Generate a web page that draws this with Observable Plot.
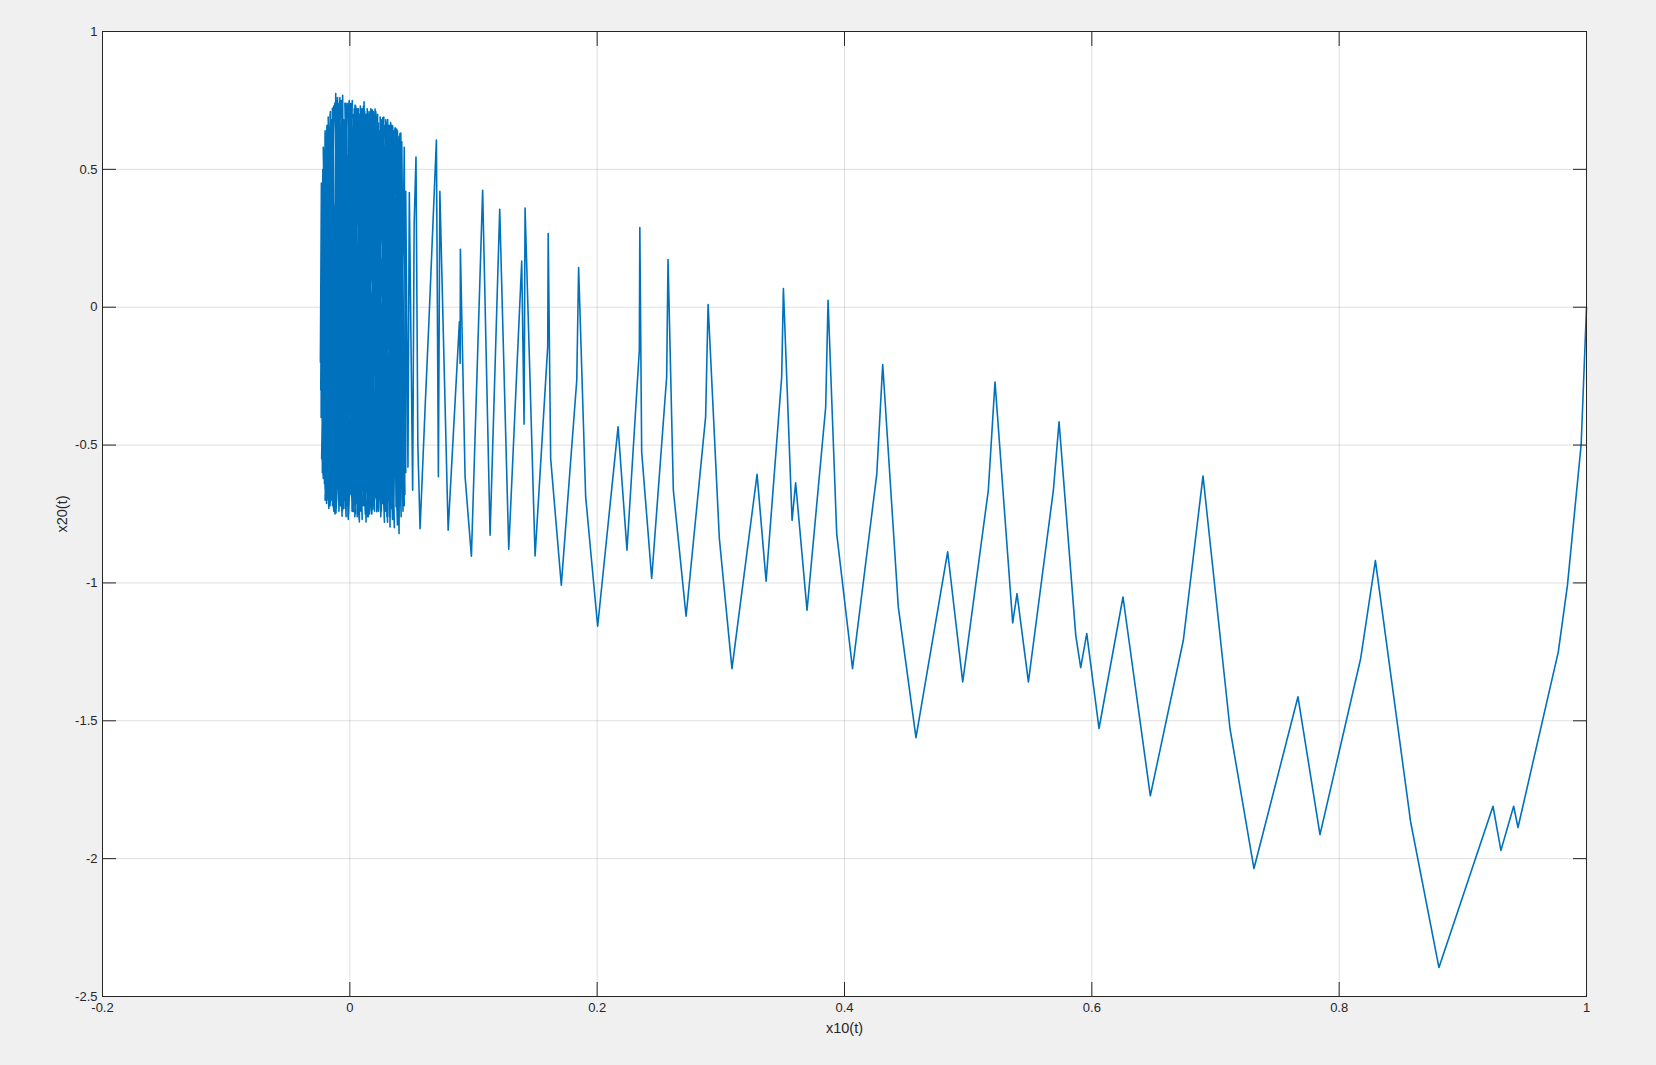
<!DOCTYPE html>
<html>
<head>
<meta charset="utf-8">
<script src="https://cdn.jsdelivr.net/npm/d3@7"></script>
<script src="https://cdn.jsdelivr.net/npm/@observablehq/plot@0.6"></script>
<style>
  html, body { margin: 0; padding: 0; background: #f0f0f0; }
  #chart svg { display: block; }
</style>
</head>
<body>
<div id="chart"></div>
<script>
// Tick values
const xTicks = [-0.2, 0, 0.2, 0.4, 0.6, 0.8, 1];
const yTicks = [-2.5, -2, -1.5, -1, -0.5, 0, 0.5, 1];

// Trajectory x10(t) (horizontal) and x20(t) (vertical)
const x10 = [
  // dense part, sweep A
  -0.0230, -0.0215, -0.0192, -0.0188, -0.0165, -0.0152, -0.0141, -0.0125, -0.0114, -0.0112,
  -0.0085, -0.0063, -0.0058, -0.0040, -0.0026, -0.0027, 0.0007, 0.0028, 0.0042, 0.0055,
  0.0077, 0.0077, 0.0100, 0.0131, 0.0115, 0.0150, 0.0150, 0.0185, 0.0180, 0.0218,
  0.0204, 0.0240, 0.0231, 0.0266, 0.0266, 0.0300, 0.0306, 0.0325, 0.0347, 0.0374,
  0.0379, 0.0398, 0.0412, 0.0430,
  // sweep B
  0.0420, 0.0390, 0.0360, 0.0340, 0.0320, 0.0290, 0.0270, 0.0250, 0.0220, 0.0200,
  0.0170, 0.0160, 0.0130, 0.0110, 0.0090, 0.0060, 0.0030, 0.0010, -0.0010, -0.0030,
  -0.0050, -0.0075, -0.0095, -0.0120, -0.0135, -0.0160, -0.0175, -0.0200, -0.0218, -0.0232,
  -0.0228,
  // sweep D
  -0.0130, -0.0200, -0.0080, -0.0160, -0.0030, -0.0100, 0.0020, -0.0040, 0.0075, 0.0010,
  0.0125, 0.0060, 0.0175, 0.0110, 0.0225, 0.0160, 0.0280, 0.0210, 0.0320, 0.0260,
  0.0360, 0.0300, 0.0395, 0.0340, 0.0430, 0.0385, 0.0445, 0.0420,
  // sweep E
  0.0350, 0.0400, 0.0300, 0.0365, 0.0250, 0.0320, 0.0195, 0.0275, 0.0140, 0.0225,
  0.0090, 0.0170, 0.0040, 0.0120, -0.0010, 0.0070, -0.0060, 0.0020, -0.0110, -0.0030,
  -0.0160, -0.0080, -0.0200, -0.0130, -0.0228, -0.0185, -0.0235, -0.0225,
  // sweep F
  -0.0170, -0.0215, -0.0120, -0.0175, -0.0065, -0.0122, -0.0012, -0.0068, 0.0045, -0.0015,
  0.0100, 0.0035, 0.0150, 0.0085, 0.0200, 0.0140, 0.0250, 0.0190, 0.0305, 0.0245,
  0.0345, 0.0290, 0.0385, 0.0330, 0.0415, 0.0370, 0.0440, 0.0405,
  // sweep G
  0.0380, 0.0352, 0.0335, 0.0312, 0.0283, 0.0258, 0.0232, 0.0208, 0.0178, 0.0155,
  0.0125, 0.0098, 0.0070, 0.0048, 0.0018, -0.0005, -0.0035, -0.0058, -0.0088, -0.0108,
  -0.0140, -0.0158, -0.0185, -0.0200, -0.0222, -0.0230, -0.0238, -0.0232,
  // sweep C
  -0.0205, -0.0180, -0.0168, -0.0150, -0.0130, -0.0105, -0.0090, -0.0070, -0.0050, -0.0035,
  -0.0015, 0.0015, 0.0040, 0.0060, 0.0090, 0.0105, 0.0120, 0.0140, 0.0170, 0.0190,
  0.0210, 0.0240, 0.0255, 0.0285, 0.0310, 0.0330, 0.0355, 0.0390, 0.0410, 0.0440,
  0.0452, 0.0452, 0.0470, 0.0481, 0.0508, 0.0520, 0.0535, 0.0550, 0.0568, 0.0610,
  0.0640, 0.0700, 0.0716, 0.0728,
  // sparse part
  0.0795, 0.0886, 0.0892, 0.0894, 0.0932, 0.0983, 0.1074, 0.1134, 0.1212, 0.1285,
  0.1390, 0.1409, 0.1417, 0.1498, 0.1600, 0.1604, 0.1624, 0.1710, 0.1835, 0.1850,
  0.1907, 0.2004, 0.2169, 0.2241, 0.2341, 0.2345, 0.2360, 0.2441, 0.2562, 0.2573,
  0.2616, 0.2719, 0.2877, 0.2897, 0.2988, 0.3090, 0.3293, 0.3366, 0.3492, 0.3506,
  0.3576, 0.3605, 0.3697, 0.3848, 0.3867, 0.3937, 0.4065, 0.4261, 0.4309, 0.4435,
  0.4578, 0.4834, 0.4956, 0.5163, 0.5217, 0.5360, 0.5395, 0.5487, 0.5689, 0.5735,
  0.5870, 0.5910, 0.5959, 0.6058, 0.6252, 0.6473, 0.6740, 0.6899, 0.7117, 0.7311,
  0.7667, 0.7845, 0.8174, 0.8293, 0.8578, 0.8807, 0.9244, 0.9308, 0.9411, 0.9446,
  0.9772, 0.9846, 0.9957, 1.0000
];
const x20 = [
  // dense part, sweep A
  0.05, -0.62, 0.618, -0.712, 0.58, -0.700, 0.721, -0.69, 0.775, -0.746,
  0.71, -0.758, 0.769, -0.70, 0.733, -0.724, 0.739, -0.742, 0.733, -0.71,
  0.700, -0.779, 0.69, -0.779, 0.745, -0.72, 0.687, -0.733, 0.716, -0.742,
  0.719, -0.70, 0.668, -0.712, 0.687, -0.76, 0.681, -0.797, 0.657, -0.724,
  0.645, -0.821, 0.632, -0.70,
  // sweep B
  0.55, -0.66, 0.60, -0.70, 0.62, -0.74, 0.60, -0.68, 0.64, -0.70,
  0.66, -0.75, 0.70, -0.72, 0.66, -0.76, 0.70, -0.68, 0.72, -0.74,
  0.68, -0.72, 0.74, -0.73, 0.70, -0.68, 0.64, -0.66, 0.50, -0.40,
  0.30,
  // sweep D
  -0.74, 0.60, -0.72, 0.70, -0.76, 0.76, -0.74, 0.74, -0.77, 0.73,
  -0.75, 0.72, -0.74, 0.73, -0.73, 0.70, -0.78, 0.71, -0.76, 0.68,
  -0.80, 0.67, -0.78, 0.66, -0.74, 0.64, -0.68, 0.60,
  // sweep E
  -0.72, 0.62, -0.74, 0.65, -0.76, 0.66, -0.72, 0.69, -0.76, 0.70,
  -0.73, 0.72, -0.76, 0.71, -0.75, 0.72, -0.74, 0.75, -0.73, 0.74,
  -0.72, 0.76, -0.70, 0.73, -0.55, 0.66, -0.30, 0.40,
  // sweep F
  -0.73, 0.58, -0.75, 0.69, -0.74, 0.74, -0.77, 0.75, -0.75, 0.74,
  -0.77, 0.72, -0.76, 0.73, -0.74, 0.72, -0.75, 0.71, -0.78, 0.69,
  -0.77, 0.68, -0.79, 0.67, -0.76, 0.65, -0.72, 0.63,
  // sweep G
  -0.70, 0.64, -0.73, 0.66, -0.72, 0.68, -0.74, 0.70, -0.75, 0.71,
  -0.73, 0.72, -0.75, 0.73, -0.74, 0.75, -0.73, 0.76, -0.74, 0.75,
  -0.72, 0.71, -0.70, 0.64, -0.60, 0.45, -0.20, 0.20,
  // sweep C
  -0.64, 0.60, -0.72, 0.68, -0.74, 0.70, -0.70, 0.74, -0.73, 0.70,
  -0.76, 0.71, -0.72, 0.68, -0.74, 0.72, -0.70, 0.66, -0.72, 0.70,
  -0.69, 0.64, -0.74, 0.66, -0.70, 0.62, -0.76, 0.60, -0.64, 0.58,
  -0.60, 0.42, -0.58, 0.416, -0.664, 0.30, 0.545, -0.50, -0.803, -0.35,
  -0.047, 0.606, -0.615, 0.42,
  // sparse part
  -0.809, -0.053, -0.204, 0.210, -0.615, -0.903, 0.424, -0.827, 0.355, -0.878,
  0.167, -0.424, 0.360, -0.902, -0.144, 0.267, -0.549, -1.008, -0.265, 0.144,
  -0.688, -1.157, -0.434, -0.881, -0.156, 0.289, -0.525, -0.984, -0.253, 0.173,
  -0.664, -1.121, -0.398, 0.010, -0.839, -1.311, -0.606, -0.994, -0.253, 0.068,
  -0.773, -0.637, -1.099, -0.362, 0.025, -0.821, -1.311, -0.606, -0.208, -1.087,
  -1.561, -0.887, -1.359, -0.664, -0.271, -1.145, -1.039, -1.359, -0.664, -0.416,
  -1.190, -1.307, -1.184, -1.528, -1.051, -1.772, -1.208, -0.612, -1.528, -2.036,
  -1.413, -1.913, -1.274, -0.919, -1.867, -2.395, -1.810, -1.970, -1.810, -1.887,
  -1.250, -1.008, -0.497, 0.000
];

const data = x10.map((x, i) => ({x, y: x20[i]}));
const ink = "#262626";
const fmt = d => String(d);

const chart = Plot.plot({
  width: 1656,
  height: 1065,
  marginLeft: 102,
  marginRight: 70,
  marginTop: 31,
  marginBottom: 69,
  style: {background: "#f0f0f0", fontFamily: "'Liberation Sans', Arial, sans-serif", fontSize: "13px", color: ink},
  x: {domain: [-0.2, 1]},
  y: {domain: [-2.5, 1]},
  marks: [
    Plot.frame({fill: "white", stroke: null}),
    Plot.gridX(xTicks, {stroke: ink, strokeOpacity: 0.15}),
    Plot.gridY(yTicks, {stroke: ink, strokeOpacity: 0.15}),
    Plot.line(data, {x: "x", y: "y", stroke: "#0072bd", strokeWidth: 1.6}),
    Plot.frame({stroke: ink}),
    // inward tick marks on all four sides
    Plot.axisX(xTicks, {anchor: "bottom", tickSize: -14, tickFormat: () => "", label: null, stroke: ink}),
    Plot.axisX(xTicks, {anchor: "top", tickSize: -14, tickFormat: () => "", label: null, stroke: ink}),
    Plot.axisY(yTicks, {anchor: "left", tickSize: -14, tickFormat: () => "", label: null, stroke: ink}),
    Plot.axisY(yTicks, {anchor: "right", tickSize: -14, tickFormat: () => "", label: null, stroke: ink}),
    // tick labels
    Plot.axisX(xTicks, {anchor: "bottom", tickSize: 0, tickPadding: 6, tickFormat: fmt, fill: ink, label: null, fontSize: 13}),
    Plot.axisY(yTicks, {anchor: "left", tickSize: 0, tickPadding: 5, tickFormat: fmt, fill: ink, label: null, fontSize: 13}),
    // axis labels
    Plot.axisX(xTicks, {anchor: "bottom", tickSize: 0, tickFormat: () => "", fill: ink,
      label: "x10(t)", labelAnchor: "center", labelArrow: "none", labelOffset: 36, fontSize: 14.5}),
    Plot.axisY(yTicks, {anchor: "left", tickSize: 0, tickFormat: () => "", fill: ink,
      label: "x20(t)", labelAnchor: "center", labelArrow: "none", labelOffset: 46, fontSize: 14.5})
  ]
});

document.getElementById("chart").appendChild(chart);
</script>
</body>
</html>
